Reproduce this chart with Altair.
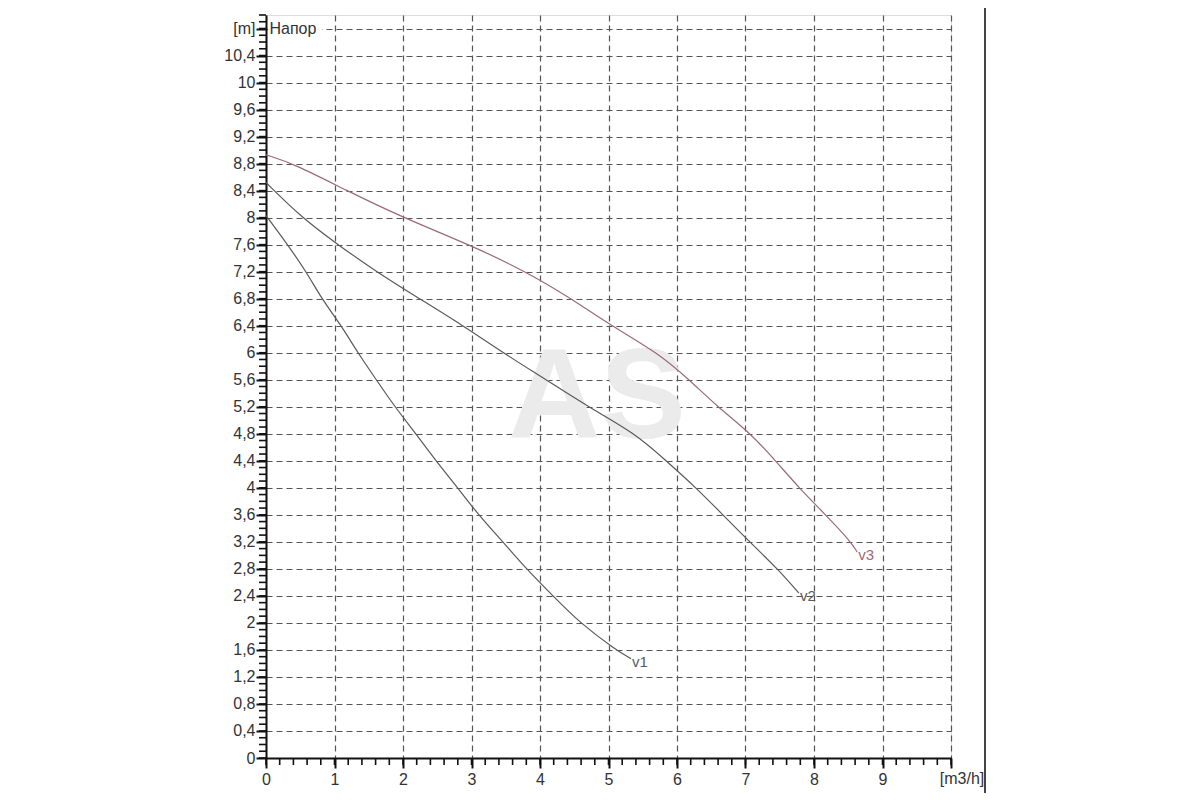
import altair as alt
import pandas as pd

# ---- data ----
v1_q = [0.0, 0.3, 0.59, 0.81, 1.10, 1.34, 1.61, 1.88, 2.19, 2.48, 2.80, 3.10, 3.46, 3.80, 4.19, 4.58, 5.11, 5.33]
v1_h = [8.03, 7.62, 7.20, 6.80, 6.40, 6.00, 5.60, 5.20, 4.80, 4.40, 4.00, 3.60, 3.20, 2.80, 2.40, 2.00, 1.60, 1.47]

v2_q = [0.0, 0.52, 1.05, 1.61, 2.24, 2.88, 3.46, 4.09, 4.70, 5.40, 5.84, 6.28, 6.67, 7.06, 7.47, 7.78]
v2_h = [8.52, 8.00, 7.60, 7.20, 6.80, 6.40, 6.00, 5.60, 5.20, 4.80, 4.40, 4.00, 3.60, 3.20, 2.80, 2.44]

v3_q = [0.0, 0.40, 1.18, 2.00, 2.97, 3.80, 4.46, 5.04, 5.72, 6.18, 6.59, 7.08, 7.44, 7.78, 8.17, 8.54, 8.63]
v3_h = [8.93, 8.80, 8.40, 8.00, 7.60, 7.20, 6.80, 6.40, 6.00, 5.60, 5.20, 4.80, 4.40, 4.00, 3.60, 3.20, 3.05]

series_names = ["v1", "v2", "v3"]
series_colors = ["#5a5a5a", "#5a5a5a", "#9a6a78"]

x_ticks = [0, 1, 2, 3, 4, 5, 6, 7, 8, 9, 10]
y_ticks = [0, 0.4, 0.8, 1.2, 1.6, 2, 2.4, 2.8, 3.2, 3.6, 4, 4.4, 4.8, 5.2, 5.6, 6,
           6.4, 6.8, 7.2, 7.6, 8, 8.4, 8.8, 9.2, 9.6, 10, 10.4, 10.8]
x_minor = [i / 5 for i in range(51)]
y_minor = [i / 10 for i in range(111)]

x_unit = "[m3/h]"
y_unit = "[m]"
y_title = "Напор"
watermark = "AS"

FONT = "Liberation Sans"
W, H = 685, 743

rows = []
for name, qs, hs in zip(series_names, [v1_q, v2_q, v3_q], [v1_h, v2_h, v3_h]):
    for q, h in zip(qs, hs):
        rows.append({"series": name, "q": q, "h": h})
df = pd.DataFrame(rows)
ends = df.groupby("series").tail(1)

xs = alt.Scale(domain=[0, 10], nice=False, zero=True)
ys = alt.Scale(domain=[0, 11], nice=False, zero=True)
cscale = alt.Scale(domain=series_names, range=series_colors)

x_axis = alt.Axis(values=x_ticks, tickCount=40, title=None, grid=True, gridDash=[6, 4], gridColor="#555",
                  gridWidth=1.2, tickSize=10, tickWidth=2, tickColor="#111",
                  domainColor="#111", domainWidth=2, labelFont=FONT, labelFontSize=16,
                  labelColor="#333", labelPadding=3, labelFlush=False, labelOverlap=False,
                  labelExpr="datum.value >= 10 ? '' : format(datum.value, 'd')")
y_axis = alt.Axis(values=y_ticks, tickCount=60, title=None, grid=True, gridDash=[6, 4], gridColor="#555",
                  gridWidth=1.2, tickSize=10, tickWidth=2, tickColor="#111",
                  domainColor="#111", domainWidth=2, labelFont=FONT, labelFontSize=16,
                  labelColor="#333", labelPadding=1, labelFlush=False, labelOverlap=False,
                  labelExpr=f"datum.value > 10.7 ? '{y_unit}' : replace(format(datum.value, '.1~f'), '.', ',')")

wm = alt.Chart(pd.DataFrame({"q": [4.83], "h": [5.3], "t": [watermark]})).mark_text(
    font=FONT, fontSize=128, fontWeight="bold", color="#ebebeb", align="center", baseline="middle"
).encode(x=alt.X("q:Q", scale=xs, axis=x_axis), y=alt.Y("h:Q", scale=ys, axis=y_axis), text="t:N")

lines = alt.Chart(df).mark_line(strokeWidth=1.2, interpolate="basis").encode(
    x=alt.X("q:Q", scale=xs),
    y=alt.Y("h:Q", scale=ys),
    color=alt.Color("series:N", scale=cscale, legend=None),
    detail="series:N",
)

labels = alt.Chart(ends).mark_text(font=FONT, fontSize=15, align="left", baseline="middle", dx=1, dy=3).encode(
    x=alt.X("q:Q", scale=xs),
    y=alt.Y("h:Q", scale=ys),
    text="series:N",
    color=alt.Color("series:N", scale=cscale, legend=None),
)

x_unit_txt = alt.Chart(pd.DataFrame({"q": [10], "t": [x_unit]})).mark_text(
    font=FONT, fontSize=16, align="center", baseline="top", color="#333", dx=11, dy=13).encode(
    x=alt.X("q:Q", scale=xs), y=alt.value(H), text="t:N")

title_bg = alt.Chart(pd.DataFrame({"q": [0.03], "q2": [0.82], "h": [10.65], "h2": [10.95]})).mark_rect(
    color="white").encode(x=alt.X("q:Q", scale=xs), x2="q2:Q", y=alt.Y("h:Q", scale=ys), y2="h2:Q")

title_txt = alt.Chart(pd.DataFrame({"q": [0.05], "h": [10.8], "t": [y_title]})).mark_text(
    font=FONT, fontSize=16, align="left", baseline="middle", color="#333").encode(
    x=alt.X("q:Q", scale=xs), y=alt.Y("h:Q", scale=ys), text="t:N")

y_minor_ticks = alt.Chart(pd.DataFrame({"h": y_minor})).mark_rule(color="#111", strokeWidth=1.6).encode(
    y=alt.Y("h:Q", scale=ys), x=alt.value(-7), x2=alt.value(0))

x_minor_ticks = alt.Chart(pd.DataFrame({"q": x_minor})).mark_rule(color="#111", strokeWidth=1.6).encode(
    x=alt.X("q:Q", scale=xs), y=alt.value(H), y2=alt.value(H + 7))

border = alt.Chart(pd.DataFrame({"a": [0]})).mark_rule(color="#444", strokeWidth=2).encode(
    x=alt.value(719), y=alt.value(-10), y2=alt.value(790))

chart = alt.layer(
    wm, lines, labels, x_unit_txt, title_bg, title_txt, y_minor_ticks, x_minor_ticks, border
).properties(
    width=W, height=H,
    autosize=alt.AutoSizeParams(type="none"),
    padding={"left": 258, "top": 7, "right": 70, "bottom": 35},
).configure_view(stroke="#555", strokeWidth=1.5).configure(background="white")

chart.save("out.html", embed_options={"renderer": "svg", "actions": False})
